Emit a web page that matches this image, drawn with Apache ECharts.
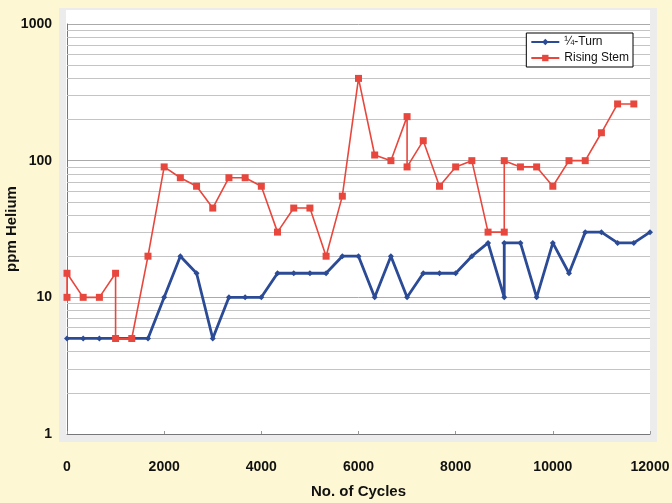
<!DOCTYPE html>
<html>
<head>
<meta charset="utf-8">
<script src="https://cdn.jsdelivr.net/npm/echarts@6/dist/echarts.min.js"></script>
<style>
    html, body { margin: 0; padding: 0; background: #fdf8d3; }
    #main { width: 672px; height: 503px; }
</style>
</head>
<body>
<div id="main"></div>
<script>
    // data
    var xTicks = [0, 2000, 4000, 6000, 8000, 10000, 12000];
    var yTicks = [1, 10, 100, 1000];

    var turnX = [0, 333, 667, 1000, 1333, 1667, 2000, 2333, 2667, 3000, 3333, 3667, 4000, 4333, 4667, 5000,
        5333, 5667, 6000, 6333, 6667, 7000, 7333, 7667, 8000, 8333, 8667, 9000, 9000, 9333, 9667, 10000,
        10333, 10667, 11000, 11333, 11667, 12000];
    var turnY = [5, 5, 5, 5, 5, 5, 10, 20, 15, 5, 10, 10, 10, 15, 15, 15,
        15, 20, 20, 10, 20, 10, 15, 15, 15, 20, 25, 10, 25, 25, 10, 25,
        15, 30, 30, 25, 25, 30];

    var stemX = [0, 0, 333, 667, 1000, 1000, 1333, 1667, 2000, 2333, 2667, 3000, 3333, 3667, 4000, 4333,
        4667, 5000, 5333, 5667, 6000, 6333, 6667, 7000, 7000, 7333, 7667, 8000, 8333, 8667, 9000, 9000,
        9333, 9667, 10000, 10333, 10667, 11000, 11333, 11667];
    var stemY = [10, 15, 10, 10, 15, 5, 5, 20, 90, 75, 65, 45, 75, 75, 65, 30,
        45, 45, 20, 55, 400, 110, 100, 210, 90, 140, 65, 90, 100, 30, 30, 100,
        90, 90, 65, 100, 100, 160, 260, 260];

    // log minor grid lines 2..9 of each decade
    var minorLines = [];
    [1, 10, 100].forEach(function (d) {
        for (var k = 2; k <= 9; k++) minorLines.push({yAxis: k * d});
    });

    function pairs(xs, ys) {
        var out = [];
        for (var i = 0; i < xs.length; i++) out.push([xs[i], ys[i]]);
        return out;
    }

    var dom = document.getElementById('main');
    var myChart = echarts.init(dom);
    var labelFont = {color: '#111', fontWeight: 'bold', fontSize: 14, fontFamily: 'Liberation Sans, Arial, sans-serif'};

    var option = {
        backgroundColor: '#fdf8d3',
        animation: false,
        graphic: [{
            type: 'rect', z: -10,
            shape: {x: 59, y: 8, width: 598, height: 434},
            style: {fill: '#ececec'}
        }, {
            type: 'rect', z: -9,
            shape: {x: 66, y: 10, width: 584, height: 425},
            style: {fill: '#ffffff'}
        }],
        grid: {left: 67, right: 22, top: 24, bottom: 69, outerBoundsMode: 'none', containLabel: false},
        legend: {
            orient: 'vertical',
            right: 39, top: 33,
            z: 20,
            backgroundColor: '#fff',
            borderColor: '#000',
            borderWidth: 1,
            borderRadius: 0,
            padding: [3, 4, 3, 4],
            itemGap: 4,
            itemWidth: 28,
            itemHeight: 8,
            textStyle: {fontSize: 12, color: '#111', fontFamily: 'Liberation Sans, Arial, sans-serif'},
            data: ['¼-Turn', 'Rising Stem']
        },
        xAxis: {
            type: 'value',
            min: 0, max: 12000, interval: 2000,
            name: 'No. of Cycles',
            nameLocation: 'middle',
            nameGap: 50,
            nameMoveOverlap: false,
            nameTextStyle: {color: '#111', fontWeight: 'bold', fontSize: 15, fontFamily: 'Liberation Sans, Arial, sans-serif'},
            axisLine: {lineStyle: {color: '#777'}},
            axisTick: {show: true, length: 3, inside: true, lineStyle: {color: '#999'}},
            axisLabel: Object.assign({
                margin: 26,
                formatter: function (v) { return String(v); }
            }, labelFont),
            splitLine: {show: false}
        },
        yAxis: {
            type: 'log',
            min: 1, max: 1000,
            name: 'ppm Helium',
            nameLocation: 'middle',
            nameGap: 48,
            nameMoveOverlap: false,
            nameTextStyle: {color: '#111', fontWeight: 'bold', fontSize: 15, fontFamily: 'Liberation Sans, Arial, sans-serif'},
            axisLine: {show: true, lineStyle: {color: '#777'}},
            axisTick: {show: false},
            axisLabel: Object.assign({
                margin: 15,
                formatter: function (v) { return yTicks.indexOf(Math.round(v)) >= 0 ? String(Math.round(v)) : ''; }
            }, labelFont),
            splitLine: {show: true, lineStyle: {color: '#aaa', width: 1}}
        },
        series: [{
            name: 'grid',
            type: 'line',
            data: [],
            silent: true,
            z: 1,
            markLine: {
                silent: true,
                symbol: 'none',
                z: 1,
                label: {show: false},
                lineStyle: {color: '#c4c4c4', width: 1.2, type: 'solid'},
                data: minorLines
            }
        }, {
            name: '¼-Turn',
            type: 'line',
            data: pairs(turnX, turnY),
            symbol: 'diamond',
            symbolSize: 6,
            itemStyle: {color: '#2c4b96'},
            lineStyle: {color: '#2c4b96', width: 2.8}
        }, {
            name: 'Rising Stem',
            type: 'line',
            data: pairs(stemX, stemY),
            symbol: 'rect',
            symbolSize: 7,
            itemStyle: {color: '#e8473d'},
            lineStyle: {color: '#e8473d', width: 1.6}
        }]
    };

    if (option && typeof option === "object") {
        myChart.setOption(option, true);
    }
</script>
</body>
</html>
